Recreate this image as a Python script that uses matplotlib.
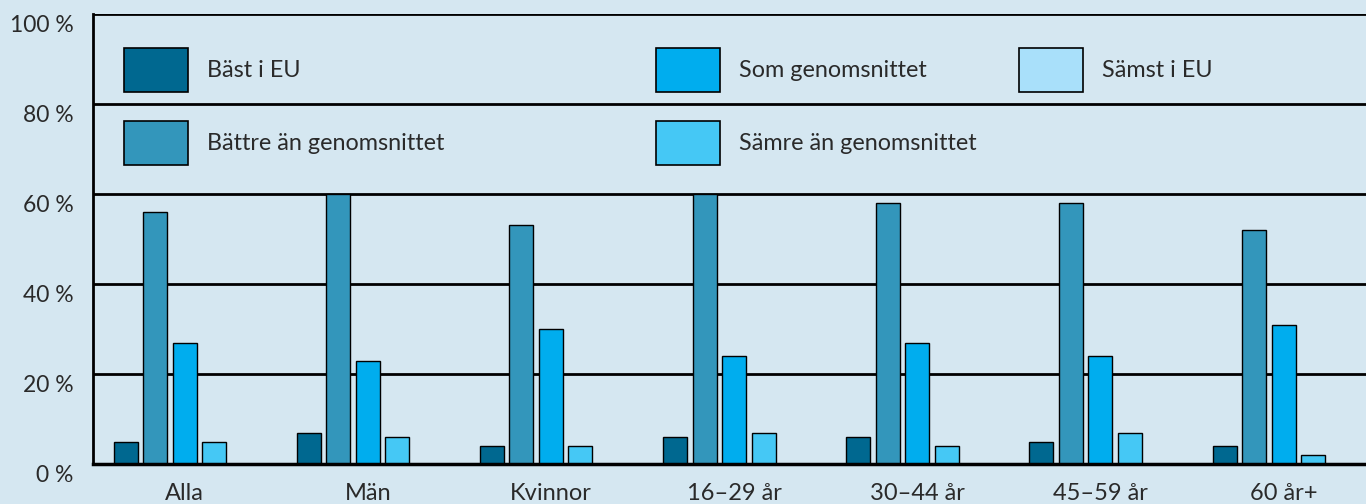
import matplotlib
matplotlib.use("Agg")
import matplotlib.pyplot as plt
import matplotlib.transforms as mtransforms
import numpy as np

categories = ["Alla", "Män", "Kvinnor", "16–29 år", "30–44 år", "45–59 år", "60 år+"]
series = ["Bäst i EU", "Bättre än genomsnittet", "Som genomsnittet",
          "Sämre än genomsnittet", "Sämst i EU"]
bast = [5, 7, 4, 6, 6, 5, 4]
battre = [56, 60, 53, 60, 58, 58, 52]
som = [27, 23, 30, 24, 27, 24, 31]
samre = [5, 6, 4, 7, 4, 7, 2]
samst = [0, 0, 0, 0, 0, 0, 0]
yticks = [0, 20, 40, 60, 80, 100]
ytick_labels = ["0 %", "20 %", "40 %", "60 %", "80 %", "100 %"]

colors = ["#006890", "#3396bb", "#00adee", "#45c8f5", "#a9e0fa"]
bg = "#d5e7f1"
txt = "#2a2a2a"

plt.rcParams["font.family"] = ["Lato", "DejaVu Sans"]
plt.rcParams["text.color"] = txt

fig = plt.figure(figsize=(13.66, 5.04), dpi=100, facecolor=bg)
ax = fig.add_axes([93 / 1366, 40 / 504, 1 - 93 / 1366, 450 / 504])
ax.set_facecolor(bg)

x = np.arange(len(categories))
step = 0.161
width = 0.131
handles = []
for k, vals in enumerate([bast, battre, som, samre, samst]):
    h = ax.bar(x + (k - 2) * step, vals, width, color=colors[k],
               edgecolor="black", linewidth=1, label=series[k], zorder=3)
    handles.append(h)

ax.set_xlim(-0.5, 6.45)
ax.set_ylim(0, 100)
ax.set_yticks(yticks)
ax.set_yticklabels(ytick_labels, fontsize=16.5, color=txt)
ax.set_xticks(x)
ax.set_xticklabels(categories, fontsize=17, color=txt)
ax.tick_params(length=0, axis="y", pad=14)
ax.tick_params(length=0, axis="x", pad=14)
off = mtransforms.ScaledTranslation(0, -10 / 100, fig.dpi_scale_trans)
for lab in ax.get_yticklabels():
    lab.set_transform(lab.get_transform() + off)

for y in yticks[1:]:
    ax.axhline(y, color="black", linewidth=2, zorder=1)
for s in ["top", "right"]:
    ax.spines[s].set_visible(False)
ax.spines["left"].set_linewidth(2)
ax.spines["bottom"].set_linewidth(2.5)
ax.spines["bottom"].set_zorder(4)

kw = dict(frameon=False, fontsize=16.8, handlelength=2.75, handleheight=2.55,
          handletextpad=0.82, labelspacing=1.22, borderpad=0, borderaxespad=0,
          loc="upper left", labelcolor=txt)
cols = [([0, 1], 124), ([2, 3], 656), ([4], 1019)]
legs = []
for idx, px in cols:
    leg = ax.legend([handles[i] for i in idx], [series[i] for i in idx],
                    bbox_to_anchor=((px - 93) / 1273, (464 - 48) / 450),
                    **kw)
    for p in leg.get_patches():
        p.set_linewidth(1.2)
    legs.append(leg)
for leg in legs[:-1]:
    ax.add_artist(leg)

fig.savefig("out.png", dpi=100, facecolor=bg)
